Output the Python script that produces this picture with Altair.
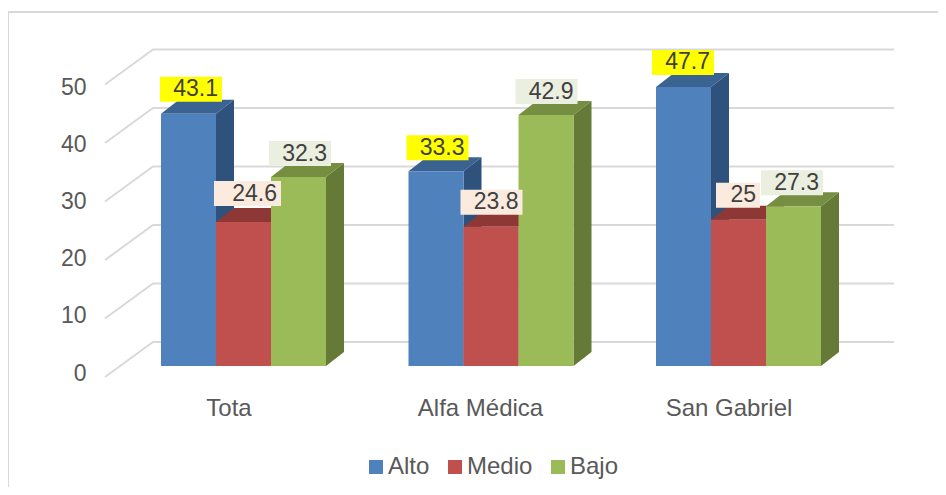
import altair as alt
import pandas as pd

categories = ["Tota", "Alfa Médica", "San Gabriel"]
series = ["Alto", "Medio", "Bajo"]
alto = [43.1, 33.3, 47.7]
medio = [24.6, 23.8, 25]
bajo = [32.3, 42.9, 27.3]
ticks = [0, 10, 20, 30, 40, 50]

# --- layout constants (pixels inside the plot area) ---
W, H = 930, 479
PX_PER_VALUE = 5.85
ZERO_PX_Y = 358          # front baseline of the bars
GROUP_PX = 247.5
FIRST_CENTER_PX = 235.5
BAR_PX = 55
DEPTH_X, DEPTH_Y = 18, 14

FRONT = ["#4F81BD", "#C0504D", "#9BBB59"]
SIDE = ["#2F527C", "#7A2F2D", "#657A37"]
TOP = ["#3A6391", "#8E3836", "#768E42"]
LABEL_BG = ["#FFFF00", "#FBEBDF", "#EBEFE0"]
GRID = "#D9D9D9"
TEXT = "#595959"
FONT = "Liberation Sans"
FS = 23

xd = lambda px: (px - FIRST_CENTER_PX) / GROUP_PX   # pixel offset -> x units
yd = lambda px: px / PX_PER_VALUE                   # pixel offset -> y units
xs = alt.Scale(domain=[xd(0), xd(W)], range=[0, W], nice=False, zero=False)
ys = alt.Scale(domain=[yd(ZERO_PX_Y - H), yd(ZERO_PX_Y)], range=[H, 0], nice=False, zero=False)
X = alt.X("x:Q", scale=xs, axis=None)
Y = alt.Y("y:Q", scale=ys, axis=None)
Y2 = alt.Y2("y2:Q")

values = [alto, medio, bajo]
# label box edges relative to the bar's left / right edge, and gap above the bar
box_left = [[-1, -2, -4], [-2, -3, 5], [-2, -3, -5]]
box_right = [[6, 5, 3], [10, 4, -6], [5, 4, 2]]
box_gap = [[12, 11, 12], [16, 12, 12], [11, 11, 11]]

front, side, top, boxes, lines = [], [], [], [], []
for s, name in enumerate(series):
    for g, cat in enumerate(categories):
        v = values[s][g]
        x0 = g + xd(FIRST_CENTER_PX - 1.5 * BAR_PX + s * BAR_PX)
        x1 = x0 + BAR_PX / GROUP_PX
        dx, dy = DEPTH_X / GROUP_PX, yd(DEPTH_Y)
        bar = f"{s}-{g}"
        front.append(dict(x=x0, x2=x1, y=v, y2=0, serie=name))
        side += [dict(x=x1, y=v, y2=0, serie=name, bar=bar),
                 dict(x=x1 + dx, y=v + dy, y2=dy, serie=name, bar=bar)]
        top += [dict(x=x0, y=v, y2=v, serie=name, bar=bar),
                dict(x=x0 + dx, y=v + dy, y2=v, serie=name, bar=bar),
                dict(x=x1, y=v + dy, y2=v, serie=name, bar=bar),
                dict(x=x1 + dx, y=v + dy, y2=v + dy, serie=name, bar=bar)]
        b = yd(box_gap[s][g])
        bx0 = x0 + box_left[s][g] / GROUP_PX
        bx1 = x1 + box_right[s][g] / GROUP_PX
        boxes.append(dict(x=bx0, x2=bx1, y=v + b, y2=v + b + yd(25), serie=name,
                          tx=bx1 - 4 / GROUP_PX, ty=v + b + yd(12.5), label=f"{v:g}"))

for t in ticks:
    lines += [dict(x=xd(97 - 0), y=t - yd(11), tick=t, o=0),
              dict(x=xd(145), y=t + yd(24), tick=t, o=1),
              dict(x=xd(886), y=t + yd(24), tick=t, o=2)]

front_df, side_df, top_df = map(pd.DataFrame, (front, side, top))
box_df, line_df = pd.DataFrame(boxes), pd.DataFrame(lines)
cat_df = pd.DataFrame(dict(
    x=[g + xd(FIRST_CENTER_PX + n) for g, n in enumerate([-14.5, -10.5, -9.5])],
    y=[yd(ZERO_PX_Y - 401)] * 3, label=categories))

col = lambda rng: alt.Color("serie:N", scale=alt.Scale(domain=series, range=rng), legend=None)

frame_left = alt.Chart(front_df).mark_rule(color=GRID, strokeWidth=2).encode(
    x=alt.value(0), y=alt.value(4), y2=alt.value(H))
frame_top = alt.Chart(front_df).mark_rule(color=GRID, strokeWidth=2).encode(
    y=alt.value(4), x=alt.value(0), x2=alt.value(W))

grid = alt.Chart(line_df).mark_line(color=GRID, strokeWidth=2).encode(
    x=X, y=Y, detail="tick:N", order="o:Q")

side_l = alt.Chart(side_df).mark_area(opacity=1).encode(x=X, y=Y, y2=Y2, detail="bar:N", color=col(SIDE))
top_l = alt.Chart(top_df).mark_area(opacity=1).encode(x=X, y=Y, y2=Y2, detail="bar:N", color=col(TOP))
front_l = alt.Chart(front_df).mark_rect().encode(
    x=X, x2="x2:Q",
    y=alt.Y("y:Q", scale=ys, axis=alt.Axis(
        values=ticks, grid=False, domain=False, ticks=False, title=None, orient="left",
        offset=-78, labelPadding=0, labelOffset=alt.expr("7 + datum.value * 0.13"),
        labelFontSize=FS, labelFont=FONT,
        labelColor=TEXT, labelAlign="right", labelBaseline="middle")),
    y2=Y2,
    color=alt.Color("serie:N", scale=alt.Scale(domain=series, range=FRONT), legend=alt.Legend(
        title=None, orient="none", legendX=356, legendY=447, direction="horizontal", columns=3,
        symbolType="square", symbolSize=196, symbolStrokeWidth=0, labelFont=FONT,
        labelFontSize=24, labelColor=TEXT, labelOffset=0, columnPadding=13, padding=0)))
box_l = alt.Chart(box_df).mark_rect().encode(x=X, x2="x2:Q", y=Y, y2=Y2, color=col(LABEL_BG))
label_l = alt.Chart(box_df).mark_text(
    align="right", baseline="middle", font=FONT, fontSize=FS, color="#404040").encode(
    x=alt.X("tx:Q", scale=xs, axis=None), y=alt.Y("ty:Q", scale=ys, axis=None), text="label:N")
cat_l = alt.Chart(cat_df).mark_text(
    align="center", baseline="middle", font=FONT, fontSize=24, color=TEXT).encode(
    x=X, y=Y, text="label:N")

chart = alt.layer(frame_left, frame_top, grid, side_l, top_l, front_l, box_l, label_l, cat_l).resolve_scale(
    color="independent"
).resolve_axis(y="independent").properties(
    width=W, height=H, padding=0, autosize=alt.AutoSizeParams(type="none"), background="white"
).configure_view(stroke=None)

chart.save("out.html", embed_options={"renderer": "svg", "actions": False})
